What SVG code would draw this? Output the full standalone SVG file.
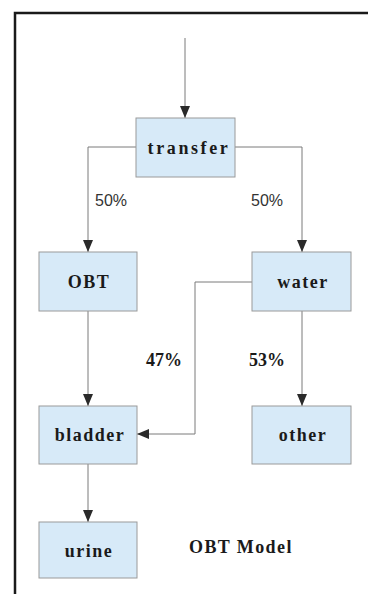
<svg xmlns="http://www.w3.org/2000/svg" width="368" height="594" viewBox="0 0 368 594">
<defs>
<marker id="arr" viewBox="0 0 12 10" refX="12" refY="5" markerWidth="12" markerHeight="10" markerUnits="userSpaceOnUse" orient="auto">
<path d="M0,0 L12,5 L0,10 z" fill="#2a2a2a"/>
</marker>
<style>
.box{fill:#d7eaf8;stroke:#9a9a9a;stroke-width:1}
.lbl{font-family:"Liberation Serif","Times New Roman",serif;font-weight:bold;font-size:18px;fill:#1a1a1a;text-anchor:middle;letter-spacing:1.5px}
.pct{font-family:"Liberation Sans",Arial,sans-serif;font-size:16px;fill:#333}
.bp{font-family:"Liberation Serif","Times New Roman",serif;font-weight:bold;font-size:18px;fill:#1a1a1a}
.ln{fill:none;stroke:#7a7a7a;stroke-width:1}
</style>
</defs>
<rect width="368" height="594" fill="#ffffff"/>
<rect x="15" y="13" width="400" height="620" fill="none" stroke="#1a1a1a" stroke-width="2.5"/>
<g id="connectors">
<path class="ln" d="M185,38 V118" marker-end="url(#arr)"/>
<path class="ln" d="M136,147 H88 V252" marker-end="url(#arr)"/>
<path class="ln" d="M235,147 H302 V252" marker-end="url(#arr)"/>
<path class="ln" d="M88,311 V406" marker-end="url(#arr)"/>
<path class="ln" d="M302,311 V406" marker-end="url(#arr)"/>
<path class="ln" d="M252,282 H195 V434 H137" marker-end="url(#arr)"/>
<path class="ln" d="M88,464 V522" marker-end="url(#arr)"/>
<text class="pct" x="95" y="206">50%</text>
<text class="pct" x="251" y="206">50%</text>
<text class="bp" x="146" y="366">47%</text>
<text class="bp" x="249" y="366">53%</text>
</g>
<g id="transfer"><rect class="box" x="136" y="118" width="99" height="59"/><text class="lbl" x="189" y="154" style="letter-spacing:2.6px">transfer</text></g>
<g id="obt"><rect class="box" x="39" y="252" width="98" height="59"/><text class="lbl" x="89" y="288">OBT</text></g>
<g id="water"><rect class="box" x="252" y="252" width="99" height="59"/><text class="lbl" x="303" y="288">water</text></g>
<g id="bladder"><rect class="box" x="39" y="406" width="98" height="58"/><text class="lbl" x="90" y="441">bladder</text></g>
<g id="other"><rect class="box" x="252" y="406" width="99" height="58"/><text class="lbl" x="303" y="441">other</text></g>
<g id="urine"><rect class="box" x="39" y="522" width="98" height="56"/><text class="lbl" x="89" y="557">urine</text></g>
<text class="bp" x="189" y="553" style="letter-spacing:1.4px">OBT Model</text>
</svg>
